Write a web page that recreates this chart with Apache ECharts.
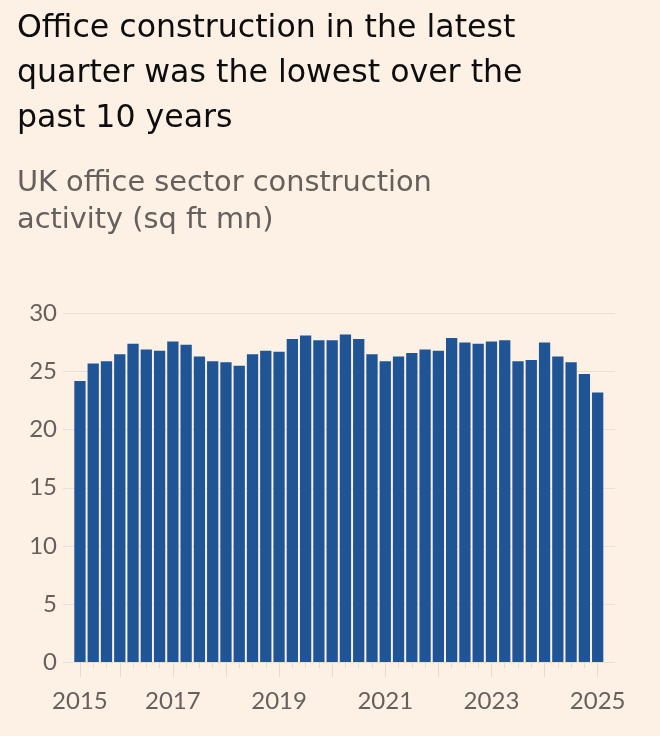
<!DOCTYPE html>
<html>
<head>
<meta charset="utf-8">
<script src="https://cdn.jsdelivr.net/npm/echarts@6/dist/echarts.min.js"></script>
<style>
html,body{margin:0;padding:0;background:#fdf1e6;}
#c{width:660px;height:736px;}
</style>
</head>
<body>
<div id="c"></div>
<script>
const titleLines = ["Office construction in the latest", "quarter was the lowest over the", "past 10 years"];
const subtitleLines = ["UK office sector construction", "activity (sq ft mn)"];
const quarters = [
  "2015 Q2","2015 Q3","2015 Q4","2016 Q1","2016 Q2","2016 Q3","2016 Q4","2017 Q1",
  "2017 Q2","2017 Q3","2017 Q4","2018 Q1","2018 Q2","2018 Q3","2018 Q4","2019 Q1",
  "2019 Q2","2019 Q3","2019 Q4","2020 Q1","2020 Q2","2020 Q3","2020 Q4","2021 Q1",
  "2021 Q2","2021 Q3","2021 Q4","2022 Q1","2022 Q2","2022 Q3","2022 Q4","2023 Q1",
  "2023 Q2","2023 Q3","2023 Q4","2024 Q1","2024 Q2","2024 Q3","2024 Q4","2025 Q1"
];
const activity = [
  24.2,25.7,25.9,26.5,27.4,26.9,26.8,27.6,
  27.3,26.3,25.9,25.8,25.5,26.5,26.8,26.7,
  27.8,28.1,27.7,27.7,28.2,27.8,26.5,25.9,
  26.3,26.6,26.9,26.8,27.9,27.5,27.4,27.6,
  27.7,25.9,26.0,27.5,26.3,25.8,24.8,23.2
];
const xLabelIndex = {0:"2015",7:"2017",15:"2019",23:"2021",31:"2023",39:"2025"};

const chart = echarts.init(document.getElementById('c'), null, {renderer:'canvas'});
const TFONT = "DejaVu Sans";
const FONT = "Lato";
const gridTop = 313.5, gridBottom = 74;
chart.setOption({
  backgroundColor: '#fdf1e6',
  animation: false,
  title: [
    {text: titleLines.join('\n'), left: 17, top: 6, padding: 0,
     textStyle:{fontFamily:TFONT, fontSize:31.6, fontWeight:'normal', color:'#0d0d0d', lineHeight:45}},
    {text: subtitleLines.join('\n'), left: 17, top: 165, padding: 0,
     textStyle:{fontFamily:TFONT, fontSize:28.8, fontWeight:'normal', color:'#66605c', lineHeight:37}}
  ],
  grid: [
    {left: 63, right: 45, top: gridTop, bottom: gridBottom},
    {left: 73.3, right: 55.7, top: gridTop, bottom: gridBottom}
  ],
  xAxis: [
    {type:'category', gridIndex:0, data: quarters, show:false},
    {type:'category', gridIndex:1, data: quarters,
     axisLine:{show:false},
     axisTick:{show:true, alignWithLabel:true, interval:0, length:6, lineStyle:{color:'#e6dbd0'}},
     axisLabel:{show:false}},
    {type:'category', gridIndex:1, data: quarters, position:'bottom',
     axisLine:{show:false},
     axisTick:{show:true, alignWithLabel:true, length:15, lineStyle:{color:'#e6dbd0'},
       interval:function(i){return i===0 || i%4===3;}},
     axisLabel:{show:true, margin:27, fontFamily:FONT, fontSize:24, color:'#66605c',
       interval:function(i){return xLabelIndex[i]!==undefined;},
       formatter:function(v,i){return xLabelIndex[i]||'';}}}
  ],
  yAxis: [
    {type:'value', gridIndex:0, min:0, max:30, interval:5,
     axisLine:{show:false}, axisTick:{show:false},
     axisLabel:{fontFamily:FONT, fontSize:24, color:'#66605c', margin:6},
     splitLine:{lineStyle:{color:'#ebe0d6', width:1}}},
    {type:'value', gridIndex:1, min:0, max:30, interval:5, show:false, splitLine:{show:false}}
  ],
  series: [{
    type:'bar', xAxisIndex:1, yAxisIndex:1, data: activity,
    barCategoryGap:'15%',
    itemStyle:{color:'#1f5594'}
  }]
});
</script>
</body>
</html>
